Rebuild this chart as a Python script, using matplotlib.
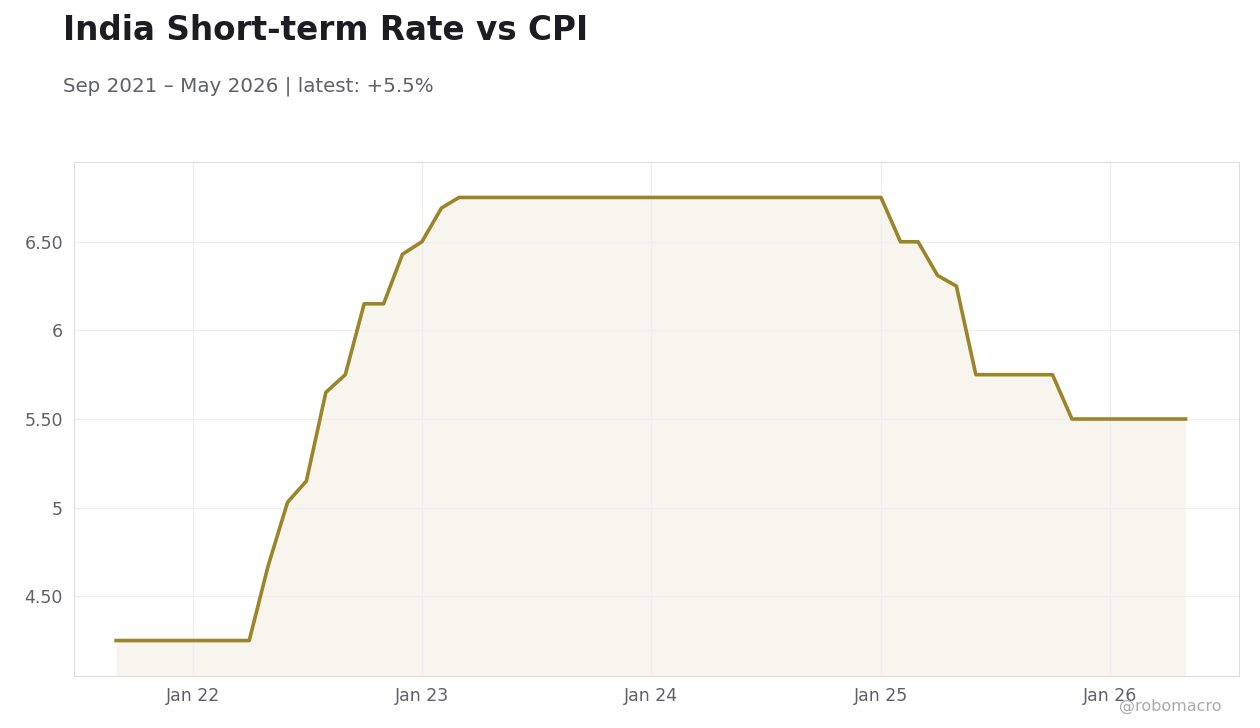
import numpy as np
import pandas as pd
import matplotlib.pyplot as plt
import matplotlib.dates as mdates
from matplotlib.ticker import FuncFormatter

dates = pd.date_range("2021-09-01", "2026-05-01", freq="MS")
rate = ([4.25] * 8                                   # Sep21 - Apr22
        + [4.67, 5.03, 5.15, 5.65, 5.75, 6.15, 6.15, 6.43]  # May22 - Dec22
        + [6.50, 6.69]                               # Jan23 - Feb23
        + [6.75] * 23                                # Mar23 - Jan25
        + [6.50, 6.50, 6.31, 6.25]                   # Feb25 - May25
        + [5.75] * 5                                 # Jun25 - Oct25
        + [5.50] * 7)                                # Nov25 - May26

line_color = "#9c8428"

fig = plt.figure(figsize=(12.6, 7.28), dpi=100)
ax = fig.add_axes([74 / 1260, 1 - 676 / 728, (1239 - 74) / 1260, (676 - 162) / 728])

ax.plot(dates, rate, color=line_color, lw=2.6, zorder=3)
ax.fill_between(dates, rate, 4.0, color=line_color, alpha=0.08, lw=0)

ax.set_xlim(pd.Timestamp("2021-06-26"), pd.Timestamp("2026-07-25"))
ax.set_ylim(4.05, 6.95)
ax.set_yticks([4.5, 5, 5.5, 6, 6.5])
ax.yaxis.set_major_formatter(FuncFormatter(lambda v, _: f"{v:g}" if v == int(v) else f"{v:.2f}"))
ax.xaxis.set_major_locator(mdates.YearLocator())
ax.xaxis.set_major_formatter(mdates.DateFormatter("Jan %y"))

ax.grid(color="#eeeeee", lw=0.8)
ax.tick_params(length=0, labelsize=12.5, colors="#5f6068", pad=8)
for s in ax.spines.values():
    s.set_color("#dddddd")

fig.text(63 / 1260, 1 - 30 / 728, "India Short-term Rate vs CPI", fontsize=23.5,
         fontweight="bold", color="#1c1c22", va="center")
fig.text(63 / 1260, 1 - 86 / 728, "Sep 2021 \u2013 May 2026 | latest: +5.5%", fontsize=14.3,
         color="#5f6068", va="center")
fig.text(1222 / 1260, 1 - 706 / 728, "@robomacro", fontsize=11.5, color="#aaaaaa",
         ha="right", va="center")

fig.savefig("out.png", dpi=100)
